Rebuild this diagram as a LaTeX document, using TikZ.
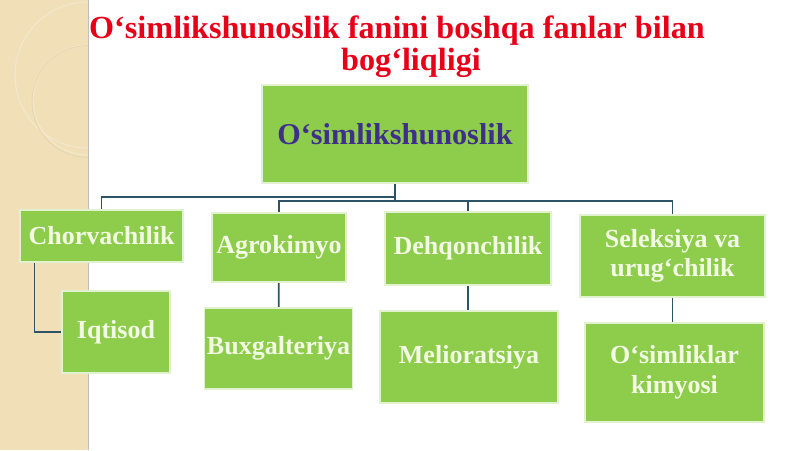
\documentclass[tikz,border=0pt]{standalone}
\usepackage{fontspec}
\setmainfont{Liberation Serif}
\usepackage{tikz}
\usetikzlibrary{positioning}
\usetikzlibrary{backgrounds}
\usetikzlibrary{calc}

\definecolor{leafgreen}{RGB}{142,204,76}
\definecolor{leafedge}{RGB}{226,242,206}
\definecolor{leaftext}{RGB}{242,250,228}
\definecolor{rootink}{RGB}{62,48,138}
\definecolor{titlered}{RGB}{232,0,24}
\definecolor{linkcol}{RGB}{45,84,102}
\definecolor{stripcol}{RGB}{241,223,184}

\begin{document}
\begin{tikzpicture}[x=0.025cm,y=-0.025cm,
		box/.style = {fill = leafgreen, draw = leafedge, line width = 0.8pt, rectangle, inner sep = 2pt,
				align = center, text = leaftext, font = \fontsize{18.5}{21}\selectfont\bfseries},
		rootbox/.style = {box, text = rootink, font = \fontsize{21.5}{24}\selectfont\bfseries},
		titletext/.style = {text = titlered, font = \fontsize{22.9}{26}\selectfont\bfseries, inner sep = 0pt, anchor = base},
		link/.style = {draw = linkcol, line width = 1.3pt, -}]

		\useasboundingbox (0,0) rectangle (800,450);

		% left side strip
		\begin{scope}[on background layer]
			\fill[stripcol] (0,0) rectangle (88,450);
			\begin{scope}
				\clip (0,0) rectangle (88,450);
				\draw[white!25!stripcol, line width = 0.8pt] (88,75) circle (73);
				\draw[white!25!stripcol, line width = 0.8pt] (88,100) circle (55);
				\draw[black!5!stripcol, line width = 0.5pt] (88,101.5) circle (56);
			\end{scope}
			\draw[black!25, line width = 0.5pt] (88,0) -- (88,450);
		\end{scope}

		\node[titletext] at (397,38) (title) {O‘simlikshunoslik fanini boshqa fanlar bilan};
		\node[titletext] at (411,70) (subtitle) {bog‘liqligi};

		\node[rootbox, minimum width = 6.65cm, minimum height = 2.45cm] at (395,134) (root) {O‘simlikshunoslik};

		\node[box, minimum width = 4.075cm, minimum height = 1.3cm] at (101.5,236) (chorv) {Chorvachilik};
		\node[box, minimum width = 3.35cm, minimum height = 1.725cm] at (279,247.5) (agro) {Agrokimyo};
		\node[box, minimum width = 4.15cm, minimum height = 1.825cm] at (468,248.5) (dehq) {Dehqonchilik};
		\node[box, minimum width = 4.625cm, minimum height = 2.05cm] at (672.5,256) (selek) {Seleksiya va\\urug‘chilik};

		\node[box, minimum width = 2.7cm, minimum height = 2.05cm] at (116,332) (iqtis) {Iqtisod};
		\node[box, minimum width = 3.675cm, minimum height = 2.025cm] at (278.5,348.5) (buxg) {Buxgalteriya};
		\node[box, minimum width = 4.45cm, minimum height = 2.3cm] at (469,357) (melio) {Melioratsiya};
		\node[box, minimum width = 4.475cm, minimum height = 2.475cm] at (674.5,372.5) (kimyo) {O‘simliklar\\kimyosi};

		\coordinate (busL) at (395,197);
		\coordinate (busR) at (395,201);

		\begin{scope}[on background layer]
			\draw[link] (root) to (busR);
			\draw[link] (busL) -| (chorv);
			\draw[link] (busR) -| (agro);
			\draw[link] (busR) -| (dehq);
			\draw[link] (busR) -| (selek);
			\draw[link] ($ (chorv.south west) + (15,0) $) |- (iqtis.west);
			\draw[link] (agro) to (buxg);
			\draw[link] (dehq.south) to (dehq.south |- melio.north);
			\draw[link] (selek.south) to (selek.south |- kimyo.north);
		\end{scope}
	\end{tikzpicture}
\end{document}
